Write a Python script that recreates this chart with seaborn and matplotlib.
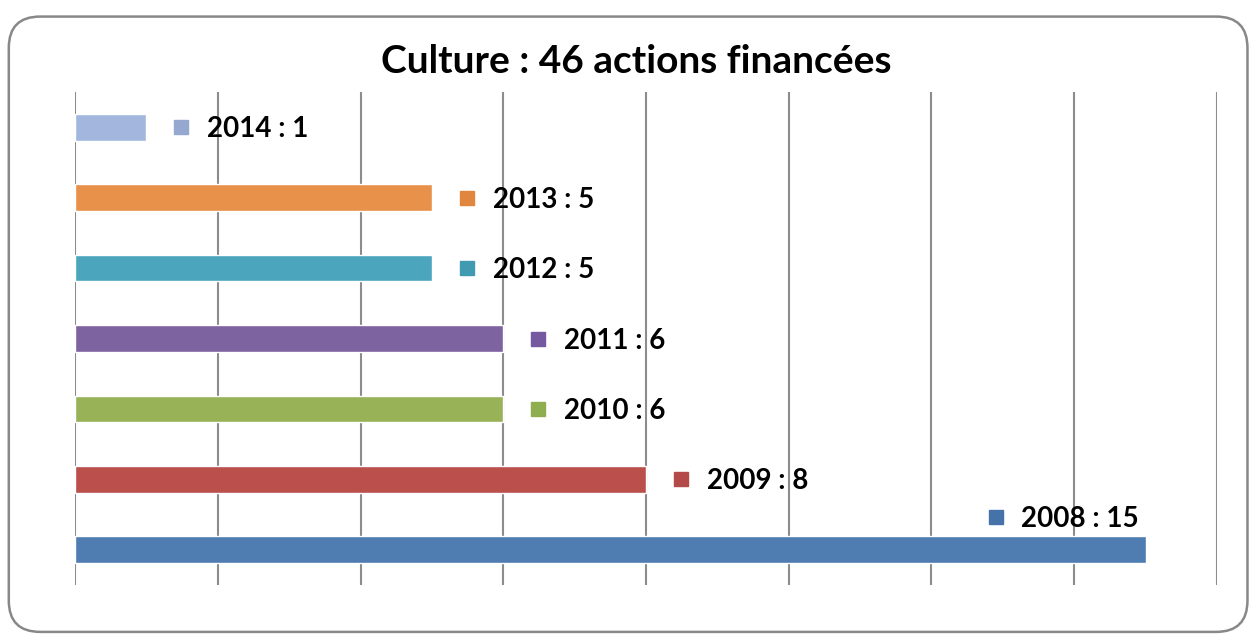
import matplotlib.pyplot as plt
import seaborn as sns
from matplotlib.patches import FancyBboxPatch

# Data
years = ["2014", "2013", "2012", "2011", "2010", "2009", "2008"]
actions = [1, 5, 5, 6, 6, 8, 15]
bar_colors = ["#A3B7DE", "#E8914A", "#4BA5BC", "#7D63A0", "#98B258", "#BA4F4C", "#4F7DB2"]
key_colors = ["#94A8D0", "#E0863E", "#3F9AB2", "#7458A0", "#8FAE50", "#B44A47", "#4672AA"]
title = "Culture : 46 actions financées"

sns.set_style("white")
plt.rcParams["font.family"] = ["Lato", "DejaVu Sans"]

fig = plt.figure(figsize=(12.55, 6.37), dpi=100)
ax = fig.add_axes([0.0598, 0.0816, 0.9099, 0.774])

sns.barplot(x=actions, y=years, order=years, hue=years, palette=bar_colors,
            orient="h", width=0.38, legend=False, saturation=1, ax=ax)

ax.set_xlim(0, 16)
ax.set_ylim(6.5, -0.5)
ax.set_xticks(range(0, 17, 2))
ax.set_yticks([])
ax.xaxis.grid(True, color="#8c8c8c", linewidth=1.5)
ax.set_axisbelow(False)
for bar in ax.patches:
    bar.set_zorder(3)
for s in ax.spines.values():
    s.set_visible(False)
ax.tick_params(axis="x", length=0, labelbottom=False)
ax.set_xlabel("")
ax.set_ylabel("")

# labels with colour keys
for i, (yr, v) in enumerate(zip(years, actions)):
    if v >= 14:
        kx, ky = v - 2.1, i - 0.47
    else:
        kx, ky = v + 0.49, i
    ax.plot(kx, ky, marker="s", markersize=9.5, color=key_colors[i],
            linestyle="none", zorder=4, clip_on=False)
    ax.text(kx + 0.36, ky + 0.03, f"{yr} : {v}", fontsize=20, fontweight="bold",
            va="center", ha="left", color="black", zorder=5)

fig.text(0.507, 0.903, title, fontsize=28, fontweight="bold",
         ha="center", va="center", color="black")

# rounded frame
frame = FancyBboxPatch((0.007, 0.008), 0.987, 0.966,
                       boxstyle="round,pad=0,rounding_size=0.025",
                       transform=fig.transFigure, fill=False,
                       edgecolor="#888888", linewidth=1.8,
                       mutation_aspect=1255 / 637)
fig.patches.append(frame)

fig.savefig("out.png", dpi=100)
